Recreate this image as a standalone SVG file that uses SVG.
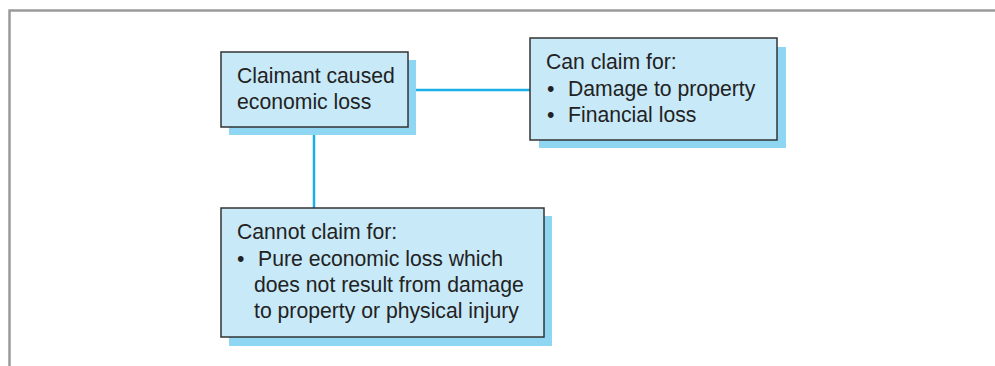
<svg xmlns="http://www.w3.org/2000/svg" width="995" height="366" viewBox="0 0 995 366">
<style>
.frame{fill:none;stroke:#9a9a9a;stroke-width:2.5}
.shadow{fill:#8fd6f3}
.box{fill:#c8e9f8;stroke:#333333;stroke-width:1.5}
.conn{stroke:#1ab0e6;stroke-width:2.5;fill:none}
text{font-family:"Liberation Sans",Arial,sans-serif;font-size:21.2px;fill:#222222}
</style>
<rect width="995" height="366" fill="#ffffff"/>
<path class="frame" d="M9.5,366 V10.5 H995"/>
<g id="connectors">
<line class="conn" x1="408" y1="90" x2="530" y2="90"/>
<line class="conn" x1="314" y1="127" x2="314" y2="208"/>
</g>
<g id="node-claimant">
<rect class="shadow" x="229" y="60" width="187" height="75"/>
<rect class="box" x="221" y="52" width="187" height="75"/>
<text x="237" y="83">Claimant caused</text>
<text x="237" y="109">economic loss</text>
</g>
<g id="node-can">
<rect class="shadow" x="539" y="47" width="247" height="101"/>
<rect class="box" x="530" y="38" width="247" height="102"/>
<text x="546" y="69">Can claim for:</text>
<text x="547" y="96">•</text>
<text x="568" y="96">Damage to property</text>
<text x="547" y="122">•</text>
<text x="568" y="122">Financial loss</text>
</g>
<g id="node-cannot">
<rect class="shadow" x="229" y="216" width="323" height="130"/>
<rect class="box" x="221" y="208" width="323" height="129"/>
<text x="237" y="239">Cannot claim for:</text>
<text x="237" y="266">•</text>
<text x="258" y="266">Pure economic loss which</text>
<text x="254" y="292">does not result from damage</text>
<text x="254" y="318">to property or physical injury</text>
</g>
</svg>
